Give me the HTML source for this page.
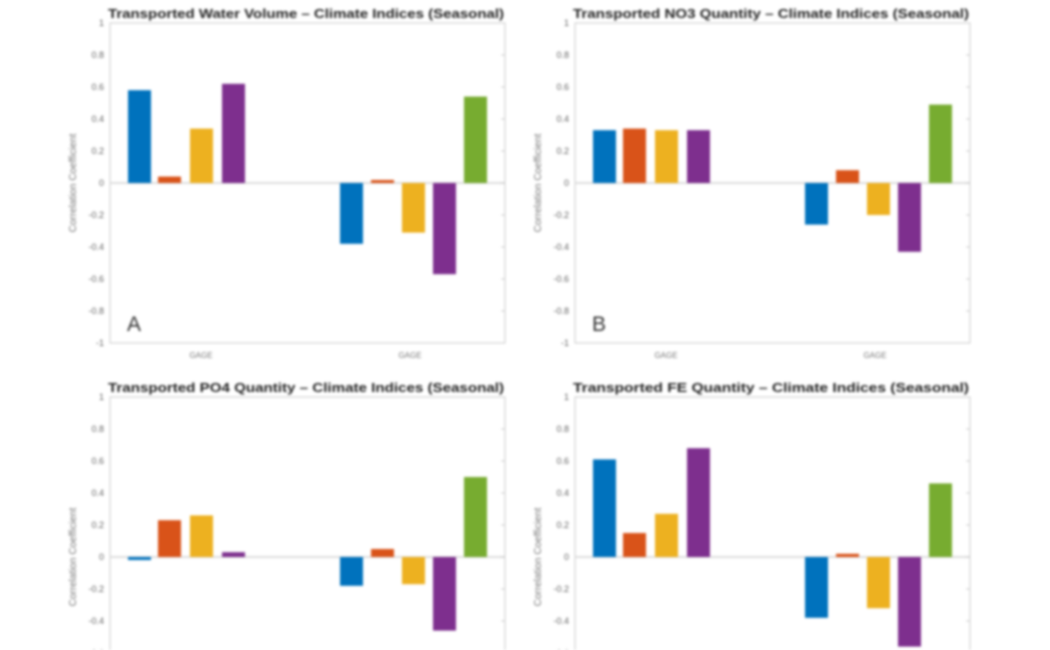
<!DOCTYPE html>
<html><head><style>
html,body{margin:0;padding:0;background:#fff;width:1050px;height:650px;overflow:hidden}
svg{filter:blur(1.2px);overflow:hidden;display:block}
text{font-family:"Liberation Sans",sans-serif}
</style></head><body>
<svg width="1050" height="650" xmlns="http://www.w3.org/2000/svg" id="s"></svg>
<script>
const s=document.getElementById('s');
const cols=['#0072BD','#D95319','#EDB120','#7E2F8E','#77AC30'];
const xs=[128,158,190,222,340,371,402,433,464];
const panels=[
 {dx:0,dy:0,t:'Transported Water Volume \u2013 Climate Indices (Seasonal)',L:'A',v:[0.58,0.04,0.34,0.62,-0.38,0.015,-0.31,-0.57,0.54]},
 {dx:465,dy:0,t:'Transported NO3 Quantity \u2013 Climate Indices (Seasonal)',L:'B',v:[0.33,0.34,0.33,0.33,-0.26,0.08,-0.2,-0.43,0.49]},
 {dx:0,dy:374,t:'Transported PO4 Quantity \u2013 Climate Indices (Seasonal)',L:'',v:[-0.01,0.23,0.26,0.03,-0.18,0.05,-0.17,-0.46,0.5]},
 {dx:465,dy:374,t:'Transported FE Quantity \u2013 Climate Indices (Seasonal)',L:'',v:[0.61,0.15,0.27,0.68,-0.38,0.02,-0.32,-0.56,0.46]}
];
let h='';
for(const p of panels){
 const X=p.dx,Y=p.dy,z=183+Y,sc=160;
 h+=`<rect x="${110+X}" y="${23+Y}" width="395" height="320" fill="#fff" stroke="#ccc" stroke-width="1"/>`;
 h+=`<line x1="${110+X}" x2="${505+X}" y1="${z}" y2="${z}" stroke="#ddd" stroke-width="2"/>`;
 for(let i=0;i<=10;i++){const val=1-i*0.2;const y=23+Y+i*32;
  const lab=Math.abs(val)<1e-9?'0':(Math.abs(Math.abs(val)-1)<1e-9?(val>0?'1':'-1'):val.toFixed(1));
  h+=`<text x="${104+X}" y="${y+3}" font-size="9" fill="#666" text-anchor="end">${lab}</text>`;
  h+=`<line x1="${501+X}" x2="${505+X}" y1="${y}" y2="${y}" stroke="#ccc"/>`;}
 h+=`<text transform="translate(${76+X},${183+Y}) rotate(-90)" font-size="10" fill="#777" text-anchor="middle">Correlation Coefficient</text>`;
 h+=`<text x="${201+X}" y="${358+Y}" font-size="8" fill="#777" text-anchor="middle">GAGE</text>`;
 h+=`<text x="${410+X}" y="${358+Y}" font-size="8" fill="#777" text-anchor="middle">GAGE</text>`;
 h+=`<text x="${306+X}" y="${18+Y}" font-size="12.5" font-weight="bold" fill="#222" text-anchor="middle" textLength="396" lengthAdjust="spacingAndGlyphs">${p.t}</text>`;
 if(p.L)h+=`<text x="${127+X}" y="${331+Y}" font-size="21" fill="#333">${p.L}</text>`;
 p.v.forEach((v,i)=>{const w=23,x=xs[i]+X;const hh=Math.max(Math.abs(v)*sc,3);
  h+=`<rect x="${x}" y="${v>=0?z-hh:z}" width="${w}" height="${hh}" fill="${cols[i<4?i:i-4]}"/>`;});
}
s.innerHTML=h;
</script>
</body></html>
